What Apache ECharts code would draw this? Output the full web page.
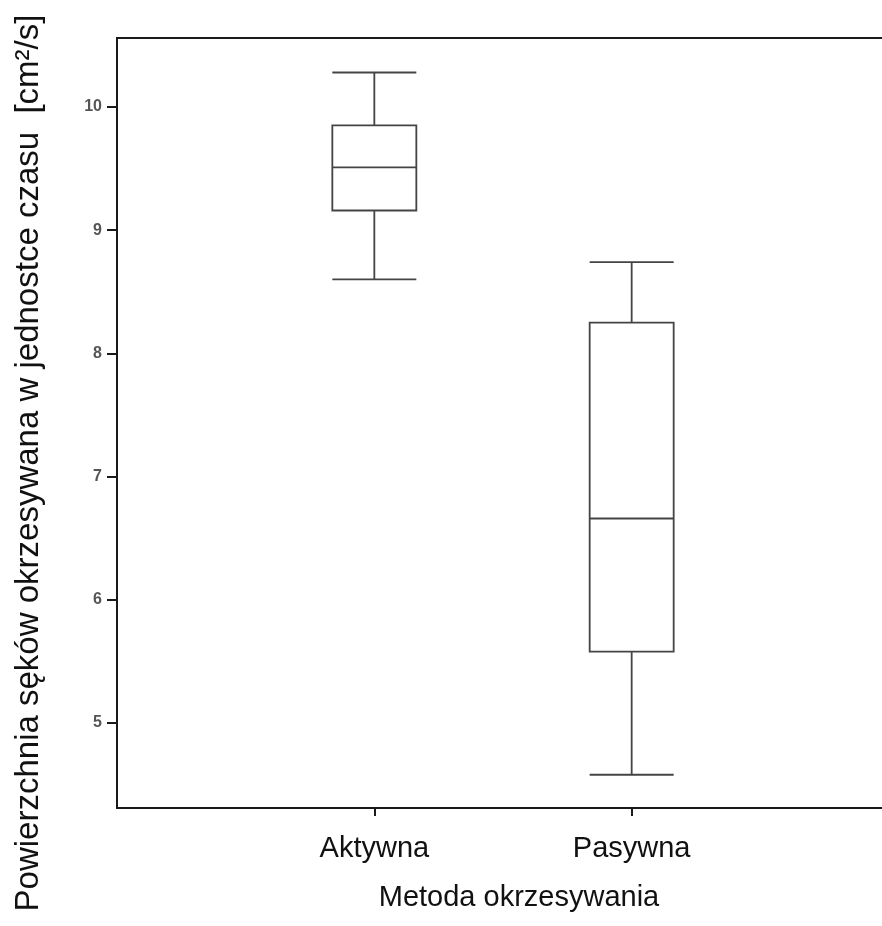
<!DOCTYPE html>
<html>
<head>
<meta charset="utf-8">
<script src="https://cdn.jsdelivr.net/npm/echarts@6/dist/echarts.min.js"></script>
<style>
html,body{margin:0;padding:0;background:#fff;}
#chart{width:882px;height:926px;}
</style>
</head>
<body>
<div id="chart"></div>
<script>
// Categories (outer empty slots frame the plot, as in the reference x range 0..3)
const categories = ['', 'Aktywna', 'Pasywna', ''];
// Box statistics: [min, Q1, median, Q3, max]
const aktywna = [8.60, 9.16, 9.51, 9.85, 10.28];
const pasywna = [4.58, 5.58, 6.66, 8.25, 8.74];
const categoryIndex = [1, 2];
const yTicks = [5, 6, 7, 8, 9, 10];
const yMin = 4.31;
const yMax = 10.56;
const xTitle = 'Metoda okrzesywania';
const yTitle = 'Powierzchnia sęków okrzesywana w jednostce czasu  [cm²/s]';

const boxes = [aktywna, pasywna];
const boxData = boxes.map((b, i) => [categoryIndex[i]].concat(b));

const font = '"Liberation Sans", Arial, sans-serif';
const chart = echarts.init(document.getElementById('chart'));
chart.setOption({
  backgroundColor: '#ffffff',
  animation: false,
  grid: {
    left: 117, right: -7, top: 38, bottom: 118,
    outerBoundsMode: 'none',
    containLabel: false,
    show: true, borderColor: '#1a1a1a', borderWidth: 2, backgroundColor: 'transparent'
  },
  xAxis: {
    type: 'category',
    data: categories,
    boundaryGap: false,
    axisLine: { lineStyle: { color: '#1a1a1a', width: 2 } },
    axisTick: {
      length: 8,
      interval: (idx) => idx === 1 || idx === 2,
      lineStyle: { color: '#1a1a1a', width: 2 }
    },
    axisLabel: {
      interval: 0,
      margin: 26,
      fontSize: 29,
      fontFamily: font,
      color: '#111'
    },
    splitLine: { show: false }
  },
  yAxis: {
    type: 'value',
    min: yMin,
    max: yMax,
    axisLine: { show: true, lineStyle: { color: '#1a1a1a', width: 2 } },
    axisTick: {
      show: true, length: 10, customValues: yTicks,
      lineStyle: { color: '#1a1a1a', width: 2 }
    },
    axisLabel: {
      customValues: yTicks,
      margin: 15,
      fontSize: 16,
      fontWeight: 'bold',
      fontFamily: font,
      color: '#555'
    },
    splitLine: { show: false }
  },
  series: [{
    type: 'boxplot',
    data: boxData,
    encode: { x: 0, y: [1, 2, 3, 4, 5] },
    boxWidth: [84, 84],
    itemStyle: { color: '#ffffff', borderColor: '#444', borderWidth: 1.8 },
    emphasis: { disabled: true }
  }],
  graphic: [
    {
      type: 'text',
      x: 519, y: 898,
      style: {
        text: xTitle, fontSize: 29, fontFamily: font, fill: '#111',
        align: 'center', verticalAlign: 'middle'
      }
    },
    {
      type: 'text',
      x: 29, y: 463,
      rotation: Math.PI / 2,
      style: {
        text: yTitle, fontSize: 33, fontFamily: font, fill: '#111',
        align: 'center', verticalAlign: 'middle'
      }
    }
  ]
});
</script>
</body>
</html>
